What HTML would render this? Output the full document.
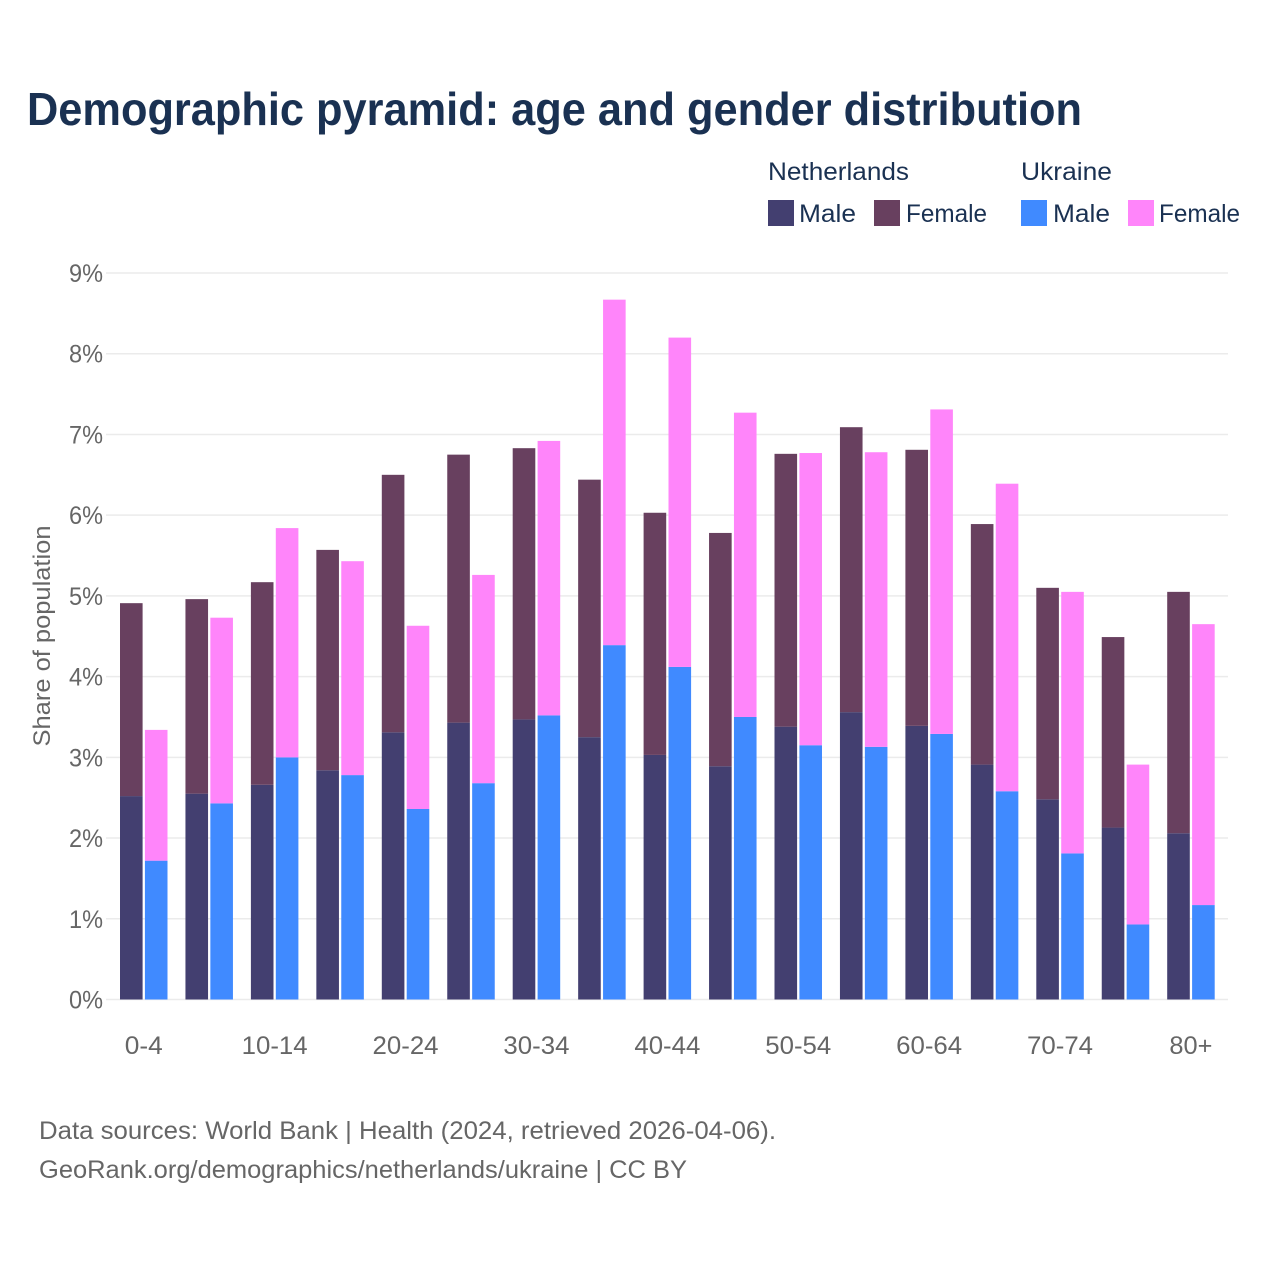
<!DOCTYPE html>
<html lang="en">
<head>
<meta charset="utf-8">
<title>Demographic pyramid: age and gender distribution</title>
<style>
html,body{margin:0;padding:0;background:#fff;width:1280px;height:1280px;overflow:hidden}
svg{display:block;font-family:"Liberation Sans",sans-serif}
</style>
</head>
<body>
<svg id="chart" width="1280" height="1280" viewBox="0 0 1280 1280">
<rect width="1280" height="1280" fill="#fff"/>
<text x="27" y="125" font-size="46" font-weight="700" fill="#1a3152" textLength="1055" lengthAdjust="spacingAndGlyphs">Demographic pyramid: age and gender distribution</text>

<g>
<text x="768" y="180" font-size="25" fill="#1a3152" textLength="141" lengthAdjust="spacingAndGlyphs">Netherlands</text>
<text x="1021" y="180" font-size="25" fill="#1a3152" textLength="91" lengthAdjust="spacingAndGlyphs">Ukraine</text>
<rect x="768" y="200" width="26" height="26" fill="#433f70"/>
<text x="799" y="222" font-size="25" fill="#1a3152" textLength="57" lengthAdjust="spacingAndGlyphs">Male</text>
<rect x="874" y="200" width="26" height="26" fill="#68405f"/>
<text x="906" y="222" font-size="25" fill="#1a3152" textLength="81" lengthAdjust="spacingAndGlyphs">Female</text>
<rect x="1021" y="200" width="26" height="26" fill="#408aff"/>
<text x="1053" y="222" font-size="25" fill="#1a3152" textLength="57" lengthAdjust="spacingAndGlyphs">Male</text>
<rect x="1128" y="200" width="26" height="26" fill="#ff85fa"/>
<text x="1159" y="222" font-size="25" fill="#1a3152" textLength="81" lengthAdjust="spacingAndGlyphs">Female</text>
</g>

<g id="grid"></g>
<g id="ylabels"></g>
<g id="bars"></g>
<g id="xlabels"></g>

<text transform="translate(50,636) rotate(-90)" text-anchor="middle" font-size="24" fill="#666666" textLength="221" lengthAdjust="spacingAndGlyphs">Share of population</text>

<text x="39" y="1139" font-size="25" fill="#666666" textLength="737" lengthAdjust="spacingAndGlyphs">Data sources: World Bank | Health (2024, retrieved 2026-04-06).</text>
<text x="39" y="1178" font-size="25" fill="#666666" textLength="648" lengthAdjust="spacingAndGlyphs">GeoRank.org/demographics/netherlands/ukraine | CC BY</text>
</svg>
<script>
const categories = ['0-4','5-9','10-14','15-19','20-24','25-29','30-34','35-39','40-44','45-49','50-54','55-59','60-64','65-69','70-74','75-79','80+'];
const netherlandsMale = [2.52,2.55,2.66,2.84,3.31,3.43,3.47,3.25,3.03,2.89,3.38,3.56,3.39,2.91,2.48,2.13,2.06];
const netherlandsFemale = [2.39,2.41,2.51,2.73,3.19,3.32,3.36,3.19,3.00,2.89,3.38,3.53,3.42,2.98,2.62,2.36,2.99];
const ukraineMale = [1.72,2.43,3.00,2.78,2.36,2.68,3.52,4.39,4.12,3.50,3.15,3.13,3.29,2.58,1.81,0.93,1.17];
const ukraineFemale = [1.62,2.30,2.84,2.65,2.27,2.58,3.40,4.28,4.08,3.77,3.62,3.65,4.02,3.81,3.24,1.98,3.48];
const yTicks = [0,1,2,3,4,5,6,7,8,9];
const xTickLabels = ['0-4','10-14','20-24','30-34','40-44','50-54','60-64','70-74','80+'];

const NS = 'http://www.w3.org/2000/svg';
const yScale = v => 999.5 - v * 80.72;
const groupLeft = i => 120 + i * 65.45;
const groupCenter = i => groupLeft(i) + 23.75;
const barWidth = 22.6;
const offsetB = 24.9;

const gridG = document.getElementById('grid');
const yLabelG = document.getElementById('ylabels');
yTicks.forEach(t => {
  const line = document.createElementNS(NS, 'line');
  
  
  line.setAttribute('x1', 106);
  line.setAttribute('x2', 1228);
  line.setAttribute('y1', yScale(t));
  line.setAttribute('y2', yScale(t));
  line.setAttribute('stroke', '#ebebeb');
  line.setAttribute('stroke-width', 1.5);
  gridG.appendChild(line);
  const label = document.createElementNS(NS, 'text');
  
  
  label.setAttribute('x', 103);
  label.setAttribute('y', yScale(t) + 9);
  label.setAttribute('text-anchor', 'end');
  label.setAttribute('font-size', 25);
  label.setAttribute('fill', '#666666');
  label.setAttribute('textLength', 34);
  label.setAttribute('lengthAdjust', 'spacingAndGlyphs');
  label.textContent = t + '%';
  yLabelG.appendChild(label);
});

const barG = document.getElementById('bars');
function addBar(x, base, value, fill, name) {
  const r = document.createElementNS(NS, 'rect');
  
  
  r.setAttribute('x', x);
  r.setAttribute('y', yScale(base + value));
  r.setAttribute('width', barWidth);
  r.setAttribute('height', yScale(base) - yScale(base + value));
  r.setAttribute('fill', fill);
  barG.appendChild(r);
}
categories.forEach((c, i) => {
  addBar(groupLeft(i), 0, netherlandsMale[i], '#433f70', 'bar-netherlands-male');
  addBar(groupLeft(i), netherlandsMale[i], netherlandsFemale[i], '#68405f', 'bar-netherlands-female');
  addBar(groupLeft(i) + offsetB, 0, ukraineMale[i], '#408aff', 'bar-ukraine-male');
  addBar(groupLeft(i) + offsetB, ukraineMale[i], ukraineFemale[i], '#ff85fa', 'bar-ukraine-female');
});

const xLabelG = document.getElementById('xlabels');
xTickLabels.forEach(lab => {
  const i = categories.indexOf(lab);
  const t = document.createElementNS(NS, 'text');
  
  
  t.setAttribute('x', groupCenter(i));
  t.setAttribute('y', 1054);
  t.setAttribute('text-anchor', 'middle');
  t.setAttribute('font-size', 25);
  t.setAttribute('fill', '#666666');
  t.setAttribute('textLength', lab.length === 5 ? 66 : (lab === '80+' ? 43 : 38));
  t.setAttribute('lengthAdjust', 'spacingAndGlyphs');
  t.textContent = lab;
  xLabelG.appendChild(t);
});
</script>
</body>
</html>
